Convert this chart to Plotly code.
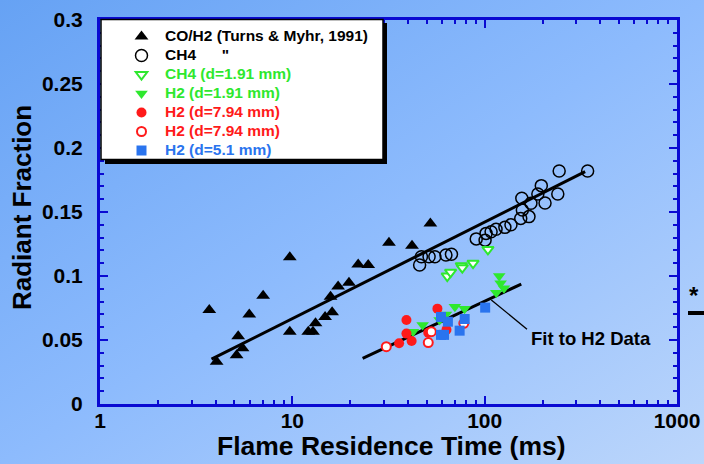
import base64
import plotly.graph_objects as go

# ---------------- data ----------------
co_t = [3.70, 4.04, 5.23, 5.13, 5.51, 5.97, 7.05, 9.70, 9.70, 12.1, 12.8, 13.2, 14.8, 16.1,
        15.8, 17.3, 19.7, 22.0, 24.8, 31.8, 41.9, 52.2]
co_r = [0.0734, 0.033, 0.053, 0.038, 0.0435, 0.070, 0.0846, 0.1146, 0.0565, 0.0565, 0.0565,
        0.063, 0.068, 0.0716, 0.0838, 0.0917, 0.0948, 0.109, 0.1086, 0.126, 0.1237, 0.141]

ch4_t = [45.9, 46.9, 51.4, 55.1, 62.9, 67.2, 90.4, 100.5, 101.7, 108, 114.6, 127.4, 137,
         154, 170, 157, 174, 156, 189, 197, 206, 240, 244, 343]
ch4_r = [0.1086, 0.115, 0.115, 0.115, 0.1164, 0.117, 0.129, 0.128, 0.1333, 0.1346, 0.1365,
         0.138, 0.140, 0.145, 0.1464, 0.1516, 0.1568, 0.1607, 0.164, 0.1706, 0.157, 0.164,
         0.182, 0.182]

ch4s_t = [63.9, 66.5, 75.6, 76.5, 87.0, 104]
ch4s_r = [0.100, 0.103, 0.108, 0.1065, 0.110, 0.1208]

h2s_t = [119, 121, 126, 115, 70, 78.6, 58.3, 47.6, 42.4, 62.9]
h2s_r = [0.100, 0.0943, 0.0904, 0.087, 0.076, 0.0745, 0.0656, 0.0617, 0.0565, 0.070]

h2l_t = [56.8, 39.2, 39.2, 35.9, 41.7, 50.9, 63.3]
h2l_r = [0.0745, 0.0656, 0.055, 0.0474, 0.0492, 0.0557, 0.058]

h2lo_t = [30.8, 50.9, 52.8, 77.9]
h2lo_r = [0.0448, 0.048, 0.0565, 0.063]

h2m_t = [59.3, 64.4, 78.7, 74.1, 59.3, 61.5, 100.6]
h2m_r = [0.068, 0.0643, 0.0664, 0.0573, 0.054, 0.054, 0.0753]

fit1_t = [3.8, 333]
fit1_r = [0.035, 0.1815]
fit2_t = [23.2, 155]
fit2_r = [0.0357, 0.0937]
leader_t = [108.3, 166]
leader_r = [0.0813, 0.0584]

x_ticks = [1, 10, 100, 1000]
x_minor = [m * d for d in (1, 10, 100) for m in range(2, 10)]
y_ticks = [0, 0.05, 0.1, 0.15, 0.2, 0.25, 0.3]
y_labels = ["0", "0.05", "0.1", "0.15", "0.2", "0.25", "0.3"]

# ---------------- style ----------------
AX = "#0a0ad2"
GREEN = "#2ee82e"
RED = "#ff1a1a"
BLUE = "#2a74ee"
FONT = "Liberation Sans"

def lab(text, color):
    return f'<span style="color:{color};font-size:15.5px"><b>{text}</b></span>'

fig = go.Figure()

fig.add_trace(go.Scatter(x=fit1_t, y=fit1_r, mode="lines", line=dict(color="black", width=3),
                         showlegend=False, hoverinfo="skip"))
fig.add_trace(go.Scatter(x=fit2_t, y=fit2_r, mode="lines", line=dict(color="black", width=3),
                         showlegend=False, hoverinfo="skip"))
fig.add_trace(go.Scatter(x=leader_t, y=leader_r, mode="lines", line=dict(color="black", width=1.3),
                         showlegend=False, hoverinfo="skip"))

fig.add_trace(go.Scatter(x=co_t, y=co_r, mode="markers", name=lab("CO/H2 (Turns &amp; Myhr, 1991)", "black"),
                         marker=dict(symbol="triangle-up", size=12, color="black")))
fig.add_trace(go.Scatter(x=ch4_t, y=ch4_r, mode="markers",
                         name=lab("CH4\u00a0\u00a0\u00a0\u00a0\u00a0\u00a0\"", "black"),
                         marker=dict(symbol="circle-open", size=12, color="black", line=dict(width=1.5))))
fig.add_trace(go.Scatter(x=ch4s_t, y=ch4s_r, mode="markers", name=lab("CH4 (d=1.91 mm)", GREEN),
                         marker=dict(symbol="triangle-down", size=10, color="white",
                                     line=dict(color=GREEN, width=2))))
fig.add_trace(go.Scatter(x=h2s_t, y=h2s_r, mode="markers", name=lab("H2 (d=1.91 mm)", GREEN),
                         marker=dict(symbol="triangle-down", size=11, color=GREEN)))
fig.add_trace(go.Scatter(x=h2l_t, y=h2l_r, mode="markers", name=lab("H2 (d=7.94 mm)", RED),
                         marker=dict(symbol="circle", size=10, color=RED)))
fig.add_trace(go.Scatter(x=h2lo_t, y=h2lo_r, mode="markers", name=lab("H2 (d=7.94 mm)", RED),
                         marker=dict(symbol="circle", size=9, color="white", line=dict(color=RED, width=2))))
fig.add_trace(go.Scatter(x=h2m_t, y=h2m_r, mode="markers", name=lab("H2 (d=5.1 mm)", BLUE),
                         marker=dict(symbol="square", size=10, color=BLUE)))

# background gradient
svg = ('<svg xmlns="http://www.w3.org/2000/svg" width="704" height="464">'
       '<defs><linearGradient id="g" x1="0" y1="0" x2="1" y2="1">'
       '<stop offset="0" stop-color="#66a2f4"/><stop offset="0.5" stop-color="#8dbbfd"/>'
       '<stop offset="1" stop-color="#bcd6fb"/></linearGradient></defs>'
       '<rect width="704" height="464" fill="url(#g)"/></svg>')
src = "data:image/svg+xml;base64," + base64.b64encode(svg.encode()).decode()

PW, PH = 577.0, 384.0

def px(x):
    return (x - 100) / PW

def py(y):
    return (404 - y) / PH

tick_font = dict(family=FONT, size=21, color="black")

def note(text, x, y, size, **kw):
    d = dict(text=text, xref="paper", yref="paper", x=px(x), y=py(y), showarrow=False,
             xanchor="center", yanchor="middle", font=dict(family=FONT, size=size, color="black"))
    d.update(kw)
    return d

fig.update_layout(
    width=704, height=464,
    margin=dict(l=100, r=27, t=20, b=60, autoexpand=False),
    paper_bgcolor="#8dbbfd", plot_bgcolor="rgba(0,0,0,0)",
    font=dict(family=FONT, color="black"),
    images=[dict(source=src, xref="paper", yref="paper", x=px(0), y=py(0),
                 sizex=704 / PW, sizey=464 / PH, sizing="stretch", layer="below",
                 xanchor="left", yanchor="top")],
    showlegend=True,
    legend=dict(x=px(118), y=py(22), xanchor="left", yanchor="top",
                bgcolor="rgba(0,0,0,0)", borderwidth=0, tracegroupgap=0,
                font=dict(family=FONT, size=11.8, color="black"), itemwidth=37),
    xaxis=dict(type="log", range=[0, 3], tickvals=x_ticks,
               ticktext=[f"<b>{v}</b>" for v in x_ticks],
               ticks="inside", ticklen=8, tickwidth=2, tickcolor=AX,
               showline=True, linecolor=AX, linewidth=3, mirror="ticks", showgrid=False,
               zeroline=False, tickfont=tick_font, ticklabelstandoff=-4,
               minor=dict(tickvals=x_minor, ticks="inside", ticklen=4, tickwidth=2,
                          tickcolor=AX, showgrid=False)),
    yaxis=dict(range=[0, 0.3], tickvals=y_ticks, ticktext=[f"<b>{t}</b>" for t in y_labels],
               ticks="inside", ticklen=8, tickwidth=2, tickcolor=AX,
               showline=True, linecolor=AX, linewidth=3, mirror="ticks", showgrid=False,
               zeroline=False, ticklabelstandoff=10, tickfont=tick_font,
               minor=dict(dtick=0.01, ticks="inside", ticklen=4, tickwidth=2,
                          tickcolor=AX, showgrid=False)),
    shapes=[
        dict(type="rect", xref="paper", yref="paper", layer="above",
             x0=px(105), x1=px(387), y0=py(164), y1=py(23), fillcolor="black", line=dict(width=0)),
        dict(type="rect", xref="paper", yref="paper", layer="above",
             x0=px(101), x1=px(383), y0=py(159.5), y1=py(19.5), fillcolor="white",
             line=dict(color="black", width=1.5)),
        dict(type="line", xref="paper", yref="paper", x0=px(688), x1=px(704),
             y0=py(313), y1=py(313), line=dict(color="black", width=4)),
    ],
    annotations=[
        note("<b>Radiant Fraction</b>", 22, 208, 26, textangle=-90),
        note("<b>Flame Residence Time (ms)</b>", 392, 446, 26.5),
        note("<b>Fit to H2 Data</b>", 529, 338, 18.5, xanchor="left"),
        note("<b>*</b>", 694, 295, 24),
    ],
)

fig.write_html("out.html")
